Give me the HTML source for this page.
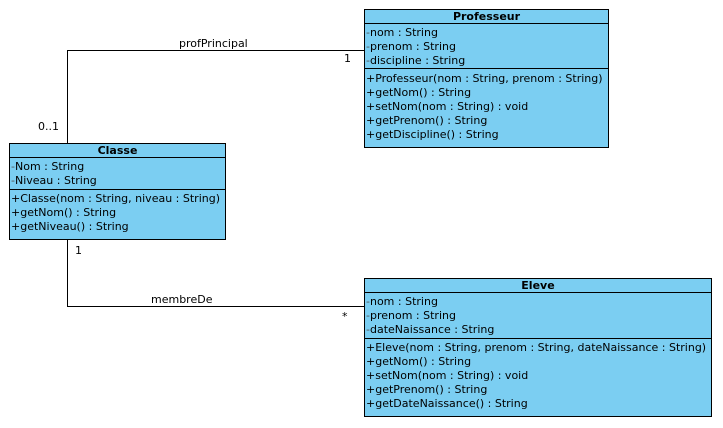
<!DOCTYPE html>
<html><head><meta charset="utf-8"><style>
html,body{margin:0;padding:0;background:#fff;width:723px;height:428px;overflow:hidden}
svg{display:block}
text{font-family:"DejaVu Sans","Liberation Sans",sans-serif;font-size:11px;fill:#000}
.b{font-weight:bold}
.g{fill:#555}
</style></head><body>
<svg width="723" height="428" viewBox="0 0 723 428">
<g fill="none" stroke="#000" stroke-width="1">
<polyline points="67.5,143 67.5,50.5 364,50.5"/>
<polyline points="67.5,239 67.5,306.5 364,306.5"/>
</g>
<text x="179" y="47">profPrincipal</text>
<text x="344" y="62">1</text>
<text x="38" y="130">0..1</text>
<text x="75" y="254">1</text>
<text x="151" y="303">membreDe</text>
<text x="342" y="320">*</text>

<!-- Professeur -->
<rect x="364.5" y="9.5" width="244" height="138" fill="#7bcef2" stroke="#000"/>
<line x1="364" y1="23.5" x2="609" y2="23.5" stroke="#000"/>
<line x1="364" y1="68.5" x2="609" y2="68.5" stroke="#000"/>
<text class="b" x="486.5" y="20" text-anchor="middle">Professeur</text>
<text x="366" y="36"><tspan class="g">-</tspan>nom : String</text>
<text x="366" y="50"><tspan class="g">-</tspan>prenom : String</text>
<text x="366" y="64"><tspan class="g">-</tspan>discipline : String</text>
<text x="366" y="82">+Professeur(nom : String, prenom : String)</text>
<text x="366" y="96">+getNom() : String</text>
<text x="366" y="110">+setNom(nom : String) : void</text>
<text x="366" y="124">+getPrenom() : String</text>
<text x="366" y="138">+getDiscipline() : String</text>

<!-- Classe -->
<rect x="9.5" y="143.5" width="216" height="96" fill="#7bcef2" stroke="#000"/>
<line x1="9" y1="157.5" x2="226" y2="157.5" stroke="#000"/>
<line x1="9" y1="189.5" x2="226" y2="189.5" stroke="#000"/>
<text class="b" x="117.5" y="154" text-anchor="middle">Classe</text>
<text x="11" y="170"><tspan class="g">-</tspan>Nom : String</text>
<text x="11" y="184"><tspan class="g">-</tspan>Niveau : String</text>
<text x="11" y="202">+Classe(nom : String, niveau : String)</text>
<text x="11" y="216">+getNom() : String</text>
<text x="11" y="230">+getNiveau() : String</text>

<!-- Eleve -->
<rect x="364.5" y="278.5" width="347" height="138" fill="#7bcef2" stroke="#000"/>
<line x1="364" y1="292.5" x2="712" y2="292.5" stroke="#000"/>
<line x1="364" y1="338.5" x2="712" y2="338.5" stroke="#000"/>
<text class="b" x="538" y="289" text-anchor="middle">Eleve</text>
<text x="366" y="305"><tspan class="g">-</tspan>nom : String</text>
<text x="366" y="319"><tspan class="g">-</tspan>prenom : String</text>
<text x="366" y="333"><tspan class="g">-</tspan>dateNaissance : String</text>
<text x="366" y="351">+Eleve(nom : String, prenom : String, dateNaissance : String)</text>
<text x="366" y="365">+getNom() : String</text>
<text x="366" y="379">+setNom(nom : String) : void</text>
<text x="366" y="393">+getPrenom() : String</text>
<text x="366" y="407">+getDateNaissance() : String</text>
</svg>
</body></html>
